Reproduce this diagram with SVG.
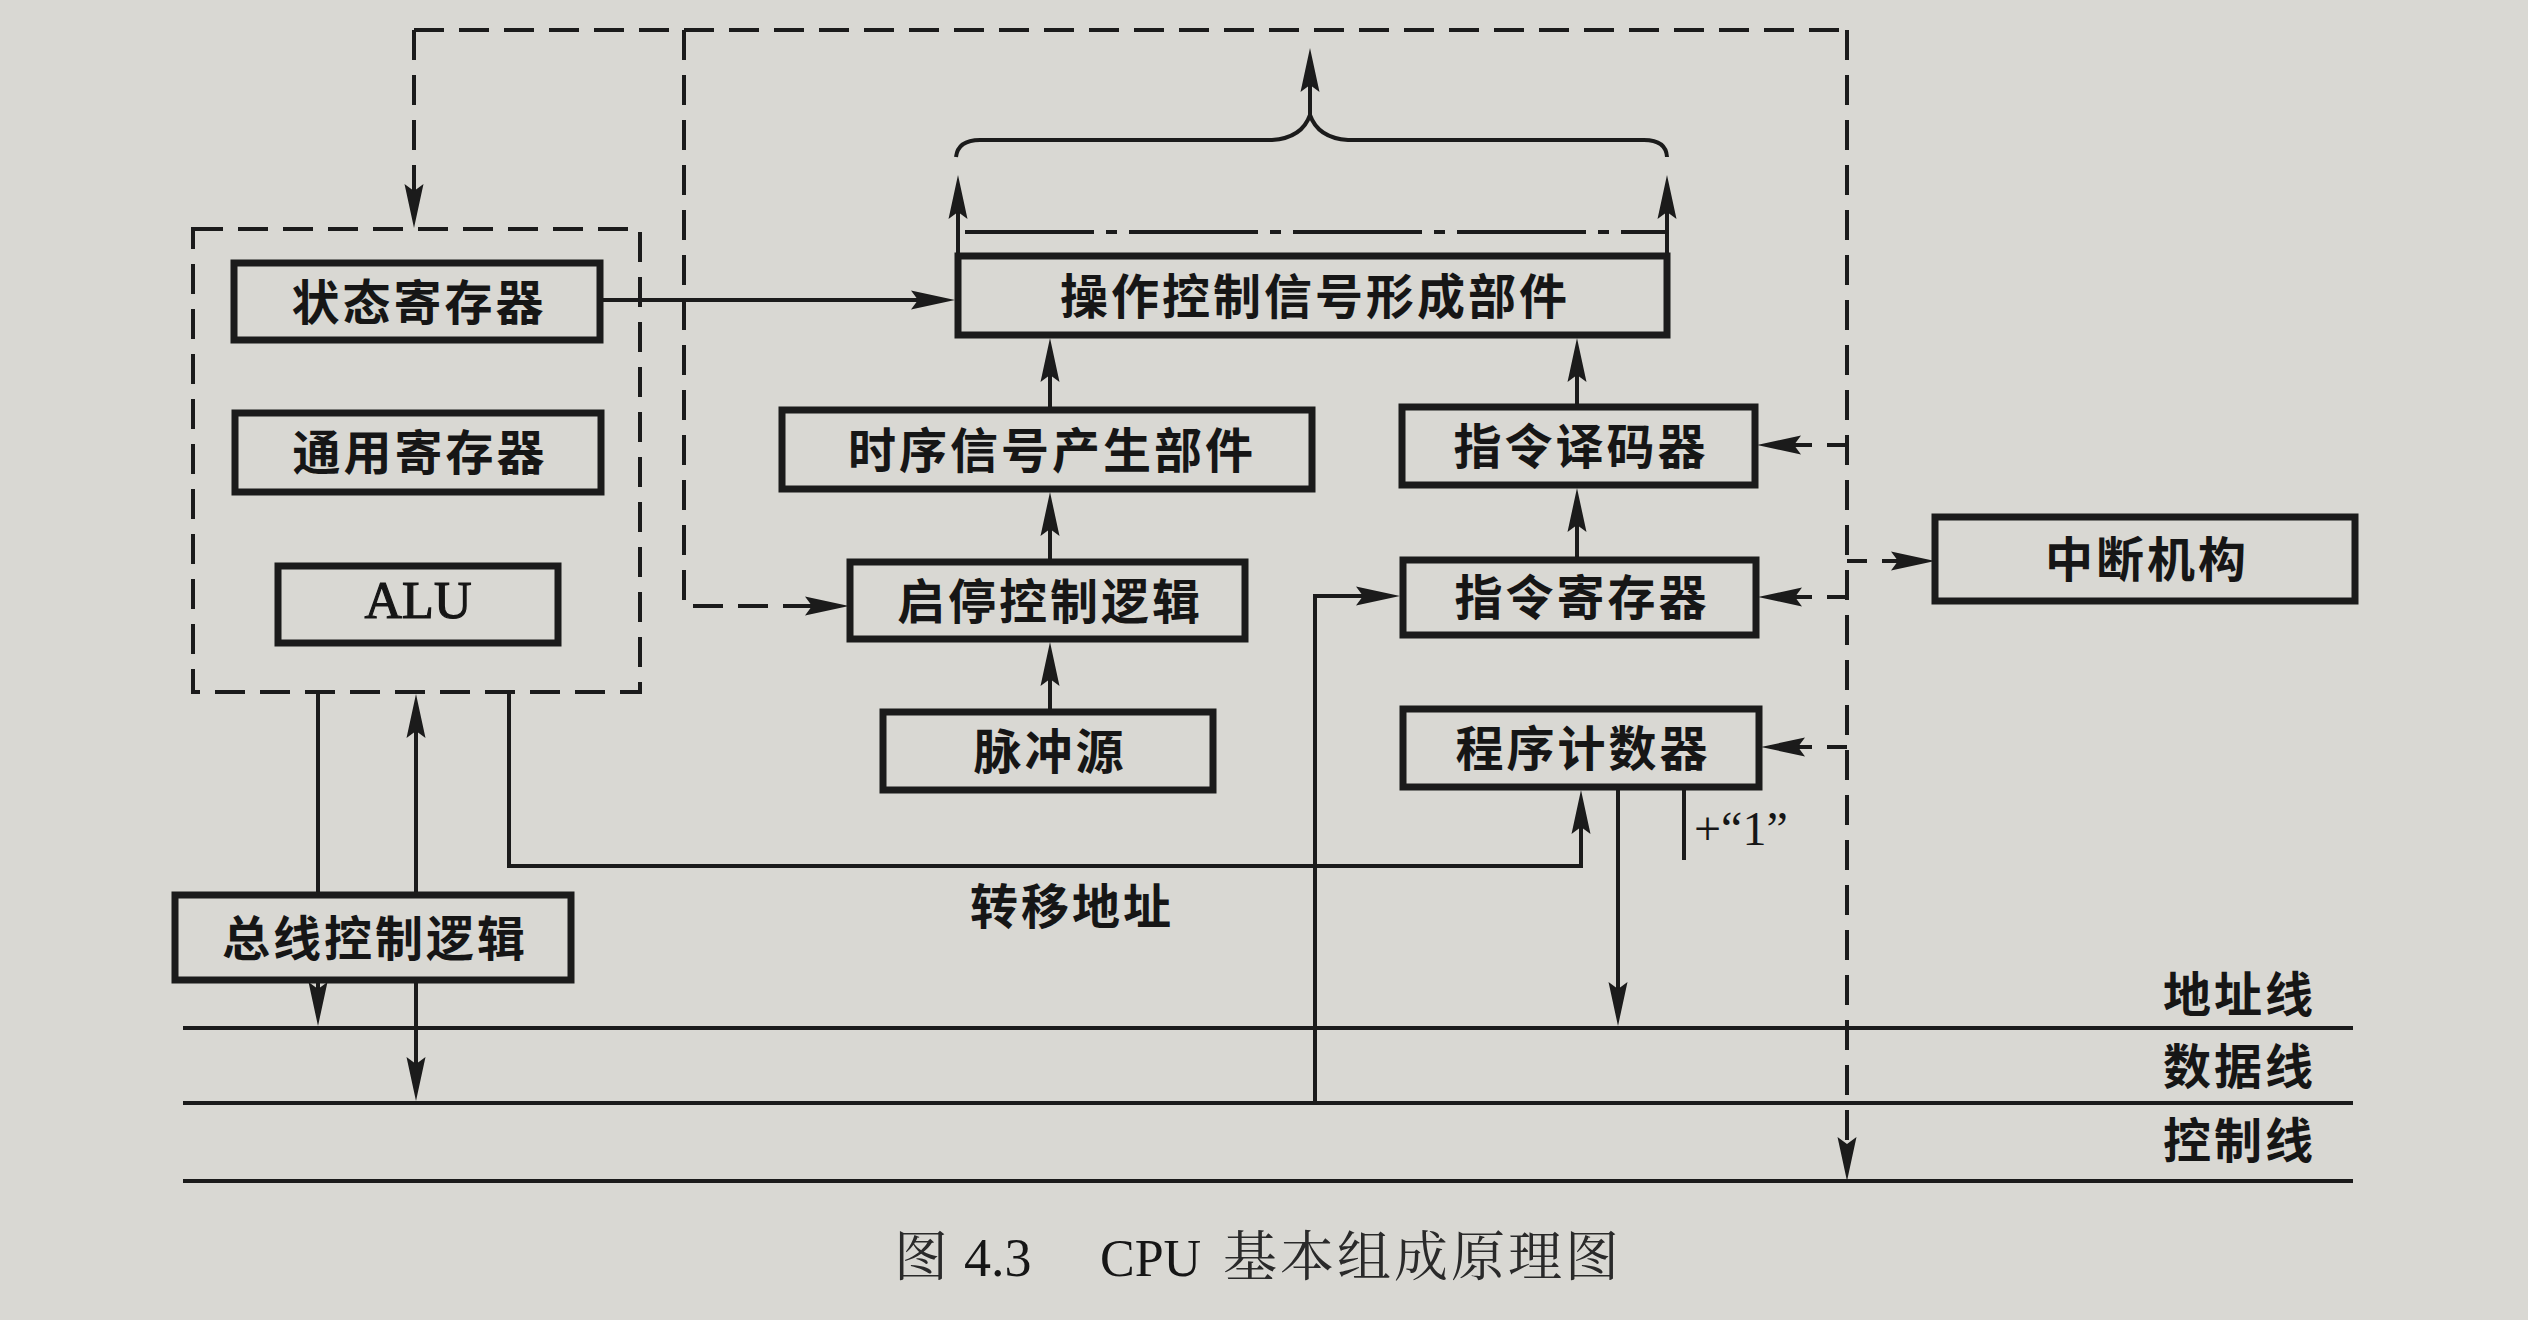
<svg xmlns="http://www.w3.org/2000/svg" width="2528" height="1320" viewBox="0 0 2528 1320">
<defs>
<marker id="arr" viewBox="0 0 44 20" refX="34" refY="10" markerWidth="44" markerHeight="20" markerUnits="userSpaceOnUse" orient="auto">
<path d="M0,0.5 L44,10 L0,19.5 L7,10 Z" fill="#1b1b1b"/>
</marker>
<style>
.bg{fill:#d9d8d3}
.box{fill:none;stroke:#1b1b1b;stroke-width:7}
.ln{fill:none;stroke:#1b1b1b;stroke-width:4}
.dsh{fill:none;stroke:#1b1b1b;stroke-width:4;stroke-dasharray:30 15}
.br{fill:none;stroke:#1b1b1b;stroke-width:4;stroke-dasharray:20 15}
.dd{fill:none;stroke:#1b1b1b;stroke-width:4;stroke-dasharray:129 12 11 12}
.a{marker-end:url(#arr)}
.t{font-family:"Noto Sans CJK SC","Noto Sans CJK TC",sans-serif;font-weight:bold;font-size:48px;letter-spacing:3px;fill:#161616;text-anchor:middle}
.s{font-family:"Liberation Serif",serif;fill:#161616}
.c{font-family:"Noto Serif CJK SC","Noto Sans CJK SC",sans-serif;font-size:54px;fill:#2a2a2a}
</style>
</defs>
<rect class="bg" x="0" y="0" width="2528" height="1320"/>

<g id="connectors">
  <!-- dashed control paths -->
  <path class="dsh" d="M414,30 H1847"/>
  <path class="dsh a" d="M414,30 V218"/>
  <path class="dsh a" d="M684,30 V606 H839"/>
  <path class="dsh a" d="M1847,30 V1171"/>
  <path class="br a" d="M1847,445 H1767"/>
  <path class="br a" d="M1847,561 H1925"/>
  <path class="br a" d="M1847,597 H1768"/>
  <path class="br a" d="M1847,747 H1771"/>
  <!-- solid connectors -->
  <path class="ln a" d="M603,300 H945"/>
  <path class="ln a" d="M1050,407 V348"/>
  <path class="ln a" d="M1050,559 V502"/>
  <path class="ln a" d="M1050,709 V652"/>
  <path class="ln a" d="M1577,404 V348"/>
  <path class="ln a" d="M1577,557 V498"/>
  <path class="ln a" d="M1315,1103 V596 H1390"/>
  <path class="ln a" d="M509,692 V866 H1581 V800"/>
  <path class="ln a" d="M1618,790 V1016"/>
  <path class="ln" d="M1684,790 V860"/>
  <path class="ln" d="M318,692 V892"/>
  <path class="ln a" d="M416,892 V704"/>
  <path class="ln a" d="M318,983 V1016"/>
  <path class="ln a" d="M416,983 V1091"/>
  <!-- outputs of control signal unit -->
  <path class="ln a" d="M958,253 V185"/>
  <path class="ln a" d="M1667,253 V185"/>
  <path class="dd" d="M965,232 H1667"/>
  <path class="ln" d="M956,157 Q958,140 980,140 H1272 Q1302,138 1310,115 Q1318,138 1348,140 H1644 Q1666,140 1667,157"/>
  <path class="ln a" d="M1310,115 V58"/>
  <!-- bus lines -->
  <path class="ln" d="M183,1028 H2353"/>
  <path class="ln" d="M183,1103 H2353"/>
  <path class="ln" d="M183,1181 H2353"/>
</g>

<g id="cpu-core">
  <rect class="dsh" x="193" y="229" width="447" height="463"/>
</g>
<g id="status-reg">
  <rect class="box" x="234" y="263" width="366" height="77"/>
  <text class="t" x="419" y="320">状态寄存器</text>
</g>
<g id="gp-reg">
  <rect class="box" x="235" y="413" width="366" height="79"/>
  <text class="t" x="420" y="470">通用寄存器</text>
</g>
<g id="alu">
  <rect class="box" x="278" y="566" width="280" height="77"/>
  <text class="s" x="418" y="618" font-size="52" text-anchor="middle" stroke="#161616" stroke-width="1.2">ALU</text>
</g>
<g id="op-ctrl">
  <rect class="box" x="958" y="256" width="709" height="79"/>
  <text class="t" x="1315" y="314">操作控制信号形成部件</text>
</g>
<g id="timing">
  <rect class="box" x="782" y="410" width="530" height="79"/>
  <text class="t" x="1052" y="468">时序信号产生部件</text>
</g>
<g id="start-stop">
  <rect class="box" x="850" y="562" width="395" height="77"/>
  <text class="t" x="1050" y="619">启停控制逻辑</text>
</g>
<g id="clock">
  <rect class="box" x="883" y="712" width="330" height="78"/>
  <text class="t" x="1050" y="769">脉冲源</text>
</g>
<g id="decoder">
  <rect class="box" x="1402" y="407" width="353" height="78"/>
  <text class="t" x="1581" y="464">指令译码器</text>
</g>
<g id="ir">
  <rect class="box" x="1403" y="560" width="353" height="75"/>
  <text class="t" x="1582" y="615">指令寄存器</text>
</g>
<g id="pc">
  <rect class="box" x="1403" y="709" width="356" height="78"/>
  <text class="t" x="1583" y="766">程序计数器</text>
</g>
<g id="interrupt">
  <rect class="box" x="1935" y="517" width="420" height="84"/>
  <text class="t" x="2147" y="577">中断机构</text>
</g>
<g id="bus-ctrl">
  <rect class="box" x="175" y="895" width="396" height="85"/>
  <text class="t" x="375" y="956">总线控制逻辑</text>
</g>

<g id="labels">
  <text class="t" x="1072" y="924">转移地址</text>
  <text class="s" x="1694" y="845" font-size="48">+“1”</text>
  <text class="t" x="2316" y="1012" style="text-anchor:end">地址线</text>
  <text class="t" x="2316" y="1084" style="text-anchor:end">数据线</text>
  <text class="t" x="2316" y="1158" style="text-anchor:end">控制线</text>
</g>

<g id="caption">
  <text class="c" x="894" y="1276">图</text>
  <text class="s" x="964" y="1276" font-size="54">4.3</text>
  <text class="s" x="1100" y="1276" font-size="52">CPU</text>
  <text class="c" x="1223" y="1276" letter-spacing="3">基本组成原理图</text>
</g>
</svg>
